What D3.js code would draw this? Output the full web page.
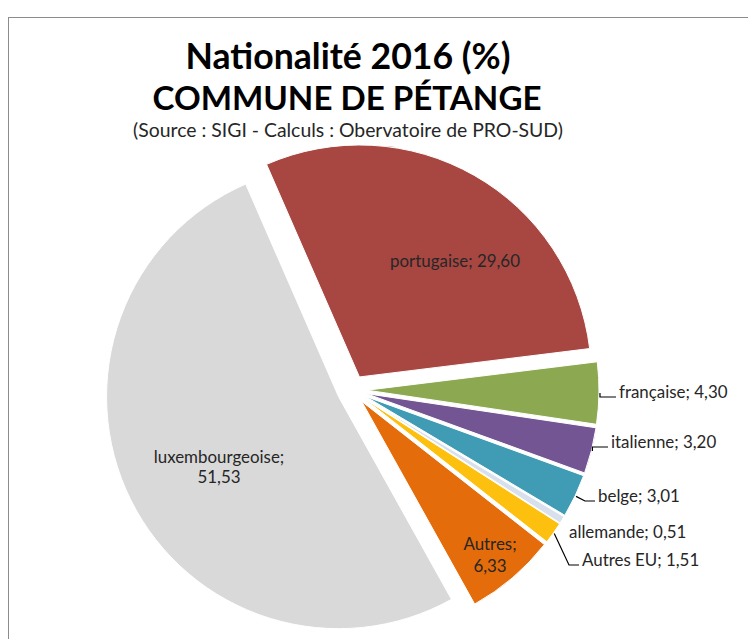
<!DOCTYPE html>
<html>
<head>
<meta charset="utf-8">
<script src="https://cdnjs.cloudflare.com/ajax/libs/d3/7.8.5/d3.min.js"></script>
<style>
    html, body { margin: 0; padding: 0; background: #ffffff; }
    svg { display: block; }
    text { font-family: Lato, "Open Sans", sans-serif; }
</style>
</head>
<body>
<div id="chart"></div>
<script>
"use strict";

// values (percent of residents)
const nationalities = ["portugaise", "française", "italienne", "belge", "allemande", "Autres EU", "Autres", "luxembourgeoise"];
const shares = [29.60, 4.30, 3.20, 3.01, 0.51, 1.51, 6.33, 51.53];

const titleLines = ["Nationalité 2016 (%)", "COMMUNE DE PÉTANGE"];
const subtitle = "(Source : SIGI - Calculs : Obervatoire de PRO-SUD)";

// slice colours, same order as the nationalities
const sliceColors = ["#a84642", "#8ca850", "#735594", "#409bb4", "#d7e0ec", "#fdc00f", "#e46c0a", "#d9d9d9"];

const width = 748,
    height = 639;

let chart = {
    svg: null,
    center: [352, 390],
    radius: 232,
    explode: 15,
    startDeg: -23.6
};

// where excel put each data label, relative to the pie centre
// (outside labels get a leader line, inside ones are centred)
let labelLayout = {
    "portugaise": { dx: 103, dy: [-123], anchor: "middle", split: false },
    "luxembourgeoise": { dx: -133, dy: [73, 93], anchor: "middle", split: true },
    "Autres": { dx: 138, dy: [160, 182], anchor: "middle", split: true },
    "française": { dx: 267, dy: [8], anchor: "start", leader: true },
    "italienne": { dx: 259, dy: [58], anchor: "start", leader: true },
    "belge": { dx: 246, dy: [112], anchor: "start", leader: true },
    "allemande": { dx: 217, dy: [148], anchor: "start", leader: false },
    "Autres EU": { dx: 230, dy: [176], anchor: "start", leader: true }
};

init();

function init() {
    chart.svg = d3.select("#chart").append("svg")
        .attr("width", width)
        .attr("height", height);

    // chart area frame, only top and left edges are inside the picture
    chart.svg.append("rect")
        .attr("x", 8.5)
        .attr("y", 17.5)
        .attr("width", 780)
        .attr("height", 700)
        .style("fill", "none")
        .style("stroke", "#8c8c8c")
        .style("stroke-width", 1);

    drawTitle();
    drawPie();
}

function fitText(sel, targetWidth) {
    let size = parseFloat(sel.style("font-size"));
    let w = sel.node().getComputedTextLength();
    sel.style("font-size", (size * targetWidth / w).toFixed(2) + "px");
}

function drawTitle() {
    let title = chart.svg.append("g").attr("class", "title");

    let t1 = title.append("text")
        .attr("x", 348)
        .attr("y", 69)
        .attr("text-anchor", "middle")
        .style("font-weight", "bold")
        .style("font-size", "30px")
        .style("fill", "#000")
        .text(titleLines[0]);
    fitText(t1, 325);

    let t2 = title.append("text")
        .attr("x", 347)
        .attr("y", 110)
        .attr("text-anchor", "middle")
        .style("font-weight", "bold")
        .style("font-size", "30px")
        .style("fill", "#000")
        .text(titleLines[1]);
    fitText(t2, 389);

    let t3 = title.append("text")
        .attr("x", 348)
        .attr("y", 137)
        .attr("text-anchor", "middle")
        .style("font-size", "15px")
        .style("fill", "#262626")
        .text(subtitle);
    fitText(t3, 430);
}

function drawPie() {
    let data = nationalities.map((d, i) => ({ name: d, value: shares[i], color: sliceColors[i] }));
    let start = chart.startDeg * Math.PI / 180;

    let pie = d3.pie()
        .sort(null)
        .value(d => d.value)
        .startAngle(start)
        .endAngle(start + 2 * Math.PI);

    let arc = d3.arc()
        .innerRadius(0)
        .outerRadius(chart.radius);

    let arcs = pie(data);

    let g = chart.svg.append("g")
        .attr("transform", "translate(" + chart.center[0] + "," + chart.center[1] + ")");

    g.selectAll(".slice")
        .data(arcs)
        .enter().append("path")
        .attr("class", "slice")
        .attr("transform", function(d) {
            let mid = (d.startAngle + d.endAngle) / 2;
            return "translate(" + (chart.explode * Math.sin(mid)) + "," + (-chart.explode * Math.cos(mid)) + ")";
        })
        .attr("d", arc)
        .style("fill", d => d.data.color)
        .style("stroke", "#ffffff")
        .style("stroke-width", 1);

    let fmt = v => d3.format(".2f")(v).replace(".", ",");

    // leader lines
    g.selectAll(".leader")
        .data(arcs.filter(d => labelLayout[d.data.name].leader))
        .enter().append("polyline")
        .attr("class", "leader")
        .attr("points", function(d) {
            let lay = labelLayout[d.data.name];
            let mid = (d.startAngle + d.endAngle) / 2;
            let r = chart.radius + chart.explode + 1;
            let p0 = [r * Math.sin(mid), -r * Math.cos(mid)];
            let y = lay.dy[0] - 1;
            let p1 = [lay.dx - 13, y];
            let p2 = [lay.dx - 3, y];
            if (Math.abs(p0[1] - y) < 4) {
                p1 = [p0[0], y];
            }
            return [p0, p1, p2].map(p => p.join(",")).join(" ");
        })
        .style("fill", "none")
        .style("stroke", "#000")
        .style("stroke-width", 1.2);

    let labels = g.selectAll(".label")
        .data(arcs)
        .enter().append("text")
        .attr("class", "label")
        .attr("text-anchor", d => labelLayout[d.data.name].anchor)
        .style("font-size", "14px")
        .style("fill", "#262626");

    labels.each(function(d) {
        let lay = labelLayout[d.data.name];
        let lines = lay.split ? [d.data.name + ";", fmt(d.data.value)] : [d.data.name + "; " + fmt(d.data.value)];
        let txt = d3.select(this);
        lines.forEach(function(line, i) {
            txt.append("tspan")
                .attr("x", lay.dx)
                .attr("y", lay.dy[i])
                .text(line);
        });
    });

    // scale the label font so "portugaise; 29,60" spans about 130px like in the reference
    let probe = labels.filter(d => d.data.name === "portugaise");
    let w = probe.node().getComputedTextLength();
    labels.style("font-size", (14 * 130 / w).toFixed(2) + "px");
}
</script>
</body>
</html>
